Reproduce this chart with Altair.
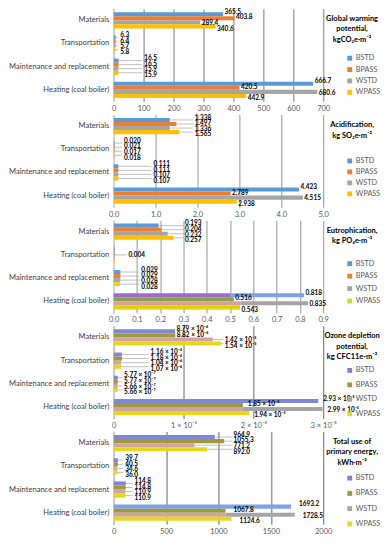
import altair as alt
import pandas as pd

FONT = "Lato"

categories = ["Materials", "Transportation", "Maintenance and replacement", "Heating (coal boiler)"]
series = ["BSTD", "BPASS", "WSTD", "WPASS"]

# values: rows = categories, columns = series
gwp_values = [[365.5, 403.8, 289.4, 340.6],
              [6.3, 6.4, 5.7, 5.8],
              [16.5, 16.5, 15.9, 15.9],
              [666.7, 420.5, 680.6, 442.9]]
acid_values = [[1.338, 1.497, 1.336, 1.565],
               [0.020, 0.021, 0.017, 0.018],
               [0.111, 0.111, 0.107, 0.107],
               [4.423, 2.789, 4.515, 2.938]]
eutro_values = [[0.193, 0.204, 0.232, 0.257],
                [0.004, 0.004, 0.004, 0.004],
                [0.029, 0.029, 0.028, 0.028],
                [0.818, 0.516, 0.835, 0.543]]
odp_values = [[8.79e-6, 8.82e-6, 1.42e-5, 1.54e-5],
              [1.16e-6, 1.18e-6, 1.04e-6, 1.07e-6],
              [5.77e-7, 5.77e-7, 5.66e-7, 5.66e-7],
              [2.93e-5, 1.85e-5, 2.99e-5, 1.94e-5]]
odp_texts = [["8.79 × 10⁻⁶", "8.82 × 10⁻⁶", "1.42 × 10⁻⁵", "1.54 × 10⁻⁵"],
             ["1.16 × 10⁻⁶", "1.18 × 10⁻⁶", "1.04 × 10⁻⁶", "1.07 × 10⁻⁶"],
             ["5.77 × 10⁻⁷", "5.77 × 10⁻⁷", "5.66 × 10⁻⁷", "5.66 × 10⁻⁷"],
             ["2.93 × 10⁻⁵", "1.85 × 10⁻⁵", "2.99 × 10⁻⁵", "1.94 × 10⁻⁵"]]
energy_values = [[964.9, 1055.3, 771.2, 892.0],
                 [39.7, 40.5, 34.6, 36.0],
                 [114.8, 114.8, 110.9, 110.9],
                 [1693.2, 1067.8, 1728.5, 1124.6]]

gwp_title = ["Global warming", "potential,", "kgCO₂e·m⁻²"]
acid_title = ["Acidification,", "kg SO₂e·m⁻²"]
eutro_title = ["Eutrophication,", "kg PO₄e·m⁻²"]
odp_title = ["Ozone depletion", "potential,", "kg CFC11e-m⁻²"]
energy_title = ["Total use of", "primary energy,", "kWh·m⁻²"]

gwp_ticks = [0, 100, 200, 300, 400, 500, 600, 700]
acid_ticks = [0, 1, 2, 3, 4, 5]
eutro_ticks = [0, 0.1, 0.2, 0.3, 0.4, 0.5, 0.6, 0.7, 0.8, 0.9]
odp_ticks = [0, 1e-5, 2e-5, 3e-5]
energy_ticks = [0, 500, 1000, 1500, 2000]

# colours
BLUE, ORANGE, GRAY, GOLD = "#5B9BD5", "#ED7D31", "#A5A5A5", "#FFC000"
PURP, OLIVE, PINK, YEL = "#8585D6", "#9C9A3C", "#D3A3A3", "#E3D81C"
LBLUE, VIOLET, GOLIVE, LIME = "#7FA2E6", "#9B6BD0", "#8FA03C", "#CDDC30"

W, H = 210, 93
LABEL_SPREAD = [-2.4, -0.8, 0.8, 2.4]
TITLE_X = W + 29     # centre of the side title, relative to plot
LEGEND_X = W + 23    # left of legend symbols, relative to plot


def fmt_texts(values, f):
    return [[f.format(v) for v in row] for row in values]


def panel(values, texts, colors, patches, domain, ticks, axis_fmt, label_expr,
          floors, gaps, title, legend_colors, titleY, legendY, rowPad,
          grid_color, grid_width, bracket=None):
    unit = domain[1] / W
    bars, segs, labs = [], [], []
    for ci, c in enumerate(categories):
        fl = floors[ci] if isinstance(floors[ci], list) else [floors[ci]] * 4
        for si, s in enumerate(series):
            v = values[ci][si]
            bars.append(dict(category=c, series=s, value=v))
            for x0, x1, col in patches.get((ci, si), [(0, None, colors[ci][si])]):
                segs.append(dict(category=c, series=s, x0=x0,
                                 x1=v if x1 is None else x1, color=col))
            t = texts[ci][si]
            if t:
                lend = max(v, fl[si])
                labs.append(dict(category=c, series=s, value=v, lend=lend,
                                 lx=lend + gaps[ci] * unit, text=t,
                                 lead=fl[si] > v))
    df_bar, df_seg, df_lab = pd.DataFrame(bars), pd.DataFrame(segs), pd.DataFrame(labs)

    axis_kw = dict(values=ticks, grid=True, gridColor=grid_color, gridWidth=grid_width,
                   ticks=False, domain=False, labelFont=FONT, labelFontSize=7.5,
                   labelColor="#595959", labelPadding=3, title=None, labelFlush=False)
    if label_expr:
        axis_kw["labelExpr"] = label_expr
    else:
        axis_kw["format"] = axis_fmt
    xaxis = alt.Axis(**axis_kw)
    xscale = alt.Scale(domain=domain, nice=False, zero=True)

    def X(field):
        return alt.X(field, scale=xscale, axis=xaxis, title=None)

    y = alt.Y("category:N", sort=categories, title=None,
              scale=alt.Scale(domain=categories, paddingInner=0.3, paddingOuter=0.15),
              axis=alt.Axis(labelFont=FONT, labelFontSize=7.6, labelColor="#404040",
                            ticks=False, domain=True, domainColor="#D9D9D9",
                            labelPadding=5, minExtent=105, maxExtent=105))
    yo = alt.YOffset("series:N", sort=series,
                     scale=alt.Scale(domain=series, paddingInner=0, paddingOuter=0))

    base = alt.Chart(df_bar).mark_bar(opacity=0).encode(
        x=X("value:Q"), y=y, yOffset=yo,
        color=alt.Color("series:N", sort=series,
                        scale=alt.Scale(domain=series, range=legend_colors),
                        legend=alt.Legend(
                            title=None, orient="none", legendX=LEGEND_X, legendY=legendY,
                            labelFont=FONT, labelFontSize=7.3, labelColor="#595959",
                            symbolType="square", symbolSize=24, symbolOpacity=1,
                            symbolStrokeWidth=0, rowPadding=rowPad, labelOffset=2.5,
                            direction="vertical")))
    seg = alt.Chart(df_seg).mark_bar().encode(
        x=X("x0:Q"), x2="x1:Q", y=y, yOffset=yo,
        fill=alt.Fill("color:N", scale=None))
    layers = [base, seg]
    lead_df = df_lab[df_lab["lead"]] if len(df_lab) else df_lab
    if len(lead_df):
        layers.append(alt.Chart(lead_df).mark_rule(color="#A6A6A6", strokeWidth=0.7).encode(
            x=X("value:Q"), x2="lend:Q", y=y, yOffset=yo))
    if bracket:
        bx, bx2, btxt, bcat = bracket
        bdf = pd.DataFrame([dict(category=bcat, bx=bx, bx2=bx2, lx=bx2 + 2 * unit, text=btxt)])
        layers.append(alt.Chart(bdf).mark_rule(color="#A6A6A6", strokeWidth=0.8).encode(
            x=X("bx:Q"), y=y))
        layers.append(alt.Chart(bdf).mark_rule(color="#A6A6A6", strokeWidth=0.8).encode(
            x=X("bx:Q"), x2="bx2:Q", y=y))
        layers.append(alt.Chart(bdf).mark_text(
            align="left", baseline="middle", font=FONT, fontSize=6.5, fontWeight="bold",
            color="#000000").encode(x=X("lx:Q"), y=y, text="text:N"))
    if len(df_lab):
        for si, s in enumerate(series):
            d = df_lab[df_lab["series"] == s]
            if len(d):
                layers.append(alt.Chart(d).mark_text(
                    align="left", baseline="middle", font=FONT, fontSize=6.5,
                    fontWeight="bold", color="#000000", dy=LABEL_SPREAD[si]).encode(
                    x=X("lx:Q"), y=y, yOffset=yo, text="text:N"))
    # side title (multi-line)
    tdf = pd.DataFrame([{"t": 1}])
    layers.append(alt.Chart(tdf).mark_text(
        text=title, align="center", baseline="top", font=FONT, fontSize=7.5,
        fontWeight="bold", color="#000000", lineHeight=10.3).encode(
        x=alt.value(TITLE_X), y=alt.value(titleY)))
    return alt.layer(*layers).properties(width=W, height=H)


default_colors = [[BLUE, ORANGE, GRAY, GOLD]] * 4

p1 = panel(gwp_values, fmt_texts(gwp_values, "{:.1f}"), default_colors, {},
           [0, 700], gwp_ticks, "d", None, [0, 15, 95, 0], [1.5, 2, 2, 1.5],
           gwp_title, [BLUE, ORANGE, GRAY, GOLD], 6.5, 46, 3.4, "#A6A6A6", 1.5)

p2 = panel(acid_values, fmt_texts(acid_values, "{:.3f}"), default_colors, {},
           [0, 5], acid_ticks, ".1f", None, [1.9, 0.2, 0.9, 0], [1.5, 2, 2, 1.5],
           acid_title, [BLUE, ORANGE, GRAY, GOLD], 7, 43, 3, "#A6A6A6", 1.2)

eutro_texts = fmt_texts(eutro_values, "{:.3f}")
eutro_texts[1] = ["", "", "", ""]
p3_colors = [[BLUE, ORANGE, GRAY, GOLD], [BLUE, ORANGE, GRAY, GOLD],
             [BLUE, ORANGE, GRAY, "#E6D620"], [LBLUE, GOLIVE, GRAY, "#E2D000"]]
p3_patches = {(3, 0): [(0, 0.5, VIOLET), (0.5, None, LBLUE)],
              (3, 2): [(0, 0.545, PINK), (0.545, None, GRAY)]}
p3 = panel(eutro_values, eutro_texts, p3_colors, p3_patches,
           [0, 0.9], eutro_ticks, ".1f", None, [0.3, 0, 0.11, 0], [1.5, 2, 2, 1.5],
           eutro_title, [BLUE, ORANGE, GRAY, LIME], 7, 40, 4.5, "#A6A6A6", 1.2,
           bracket=(0.015, 0.055, "0.004", "Transportation"))

p4_colors = [[PURP, OLIVE, PINK, YEL]] * 3 + [["#7F87D8", OLIVE, PINK, YEL]]
p4_patches = {(3, 2): [(0, 1.85e-5, PINK), (1.85e-5, None, GRAY)]}
p4 = panel(odp_values, odp_texts, p4_colors, p4_patches,
           [0, 3e-5], odp_ticks, "", "datum.value == 0 ? '0' : format(datum.value * 100000, 'd') + ' × 10⁻⁵'",
           [[0, 0, 1.57e-5, 1.57e-5], 0.5e-5, 0.12e-5, 0], [1.5, 2, 2, 5],
           odp_title, ["#8080D0", OLIVE, "#A8A8A8", "#DDE020"], 6.5, 41, 6.5, "#808080", 1.2)

p5_colors = [[PURP, OLIVE, PINK, YEL]] * 3 + [[LBLUE, OLIVE, PINK, YEL]]
p5_patches = {(3, 2): [(0, 1067.8, PINK), (1067.8, None, GRAY)]}
p5 = panel(energy_values, fmt_texts(energy_values, "{:.1f}"), p5_colors, p5_patches,
           [0, 2000], energy_ticks, "d", None, [1130, 90, 180, 0], [1.5, 2, 2, 8],
           energy_title, ["#8080D0", OLIVE, "#A8A8A8", "#DDE020"], 6.5, 43, 7.3, "#808080", 1.2)

chart = alt.vconcat(p1, p2, p3, p4, p5, spacing=2).resolve_scale(
    x="independent", y="independent", color="independent"
).properties(
    padding={"top": 0, "left": 0, "right": 0, "bottom": 0},
    background="white"
).configure_view(stroke=None)

chart.save("out.html", embed_options={"renderer": "svg", "actions": False})
